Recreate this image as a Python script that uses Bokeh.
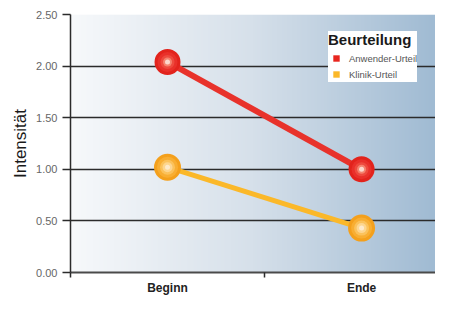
import numpy as np
from bokeh.plotting import figure
from bokeh.models import Range1d, FixedTicker, Legend, LegendItem
from bokeh.embed import file_html
from bokeh.resources import INLINE

categories = ["Beginn", "Ende"]
anwender = [2.04, 1.00]
klinik = [1.02, 0.43]
y_ticks = [0.0, 0.5, 1.0, 1.5, 2.0, 2.5]
series_names = ["Anwender-Urteil", "Klinik-Urteil"]

xs = [i + 0.5 for i in range(len(categories))]
x_end = 1.881

p = figure(width=435, height=297, output_backend="svg", toolbar_location=None,
           x_range=Range1d(0, x_end), y_range=Range1d(0, 2.5),
           min_border_left=70, min_border_right=0, min_border_top=14, min_border_bottom=20)
p.outline_line_color = None
p.background_fill_color = "white"
p.border_fill_color = "white"

# horizontal gradient background
n = 256
t = np.linspace(0, 1, n)
c0 = np.array([247, 249, 251]); c1 = np.array([214, 224, 234]); c2 = np.array([160, 187, 211])
cols = np.where(t[:, None] < 0.5, c0 + (c1 - c0) * (t[:, None] / 0.5), c1 + (c2 - c1) * ((t[:, None] - 0.5) / 0.5))
img = np.zeros((2, n), dtype=np.uint32)
view = img.view(dtype=np.uint8).reshape((2, n, 4))
for r in range(2):
    view[r, :, 0] = cols[:, 0]
    view[r, :, 1] = cols[:, 1]
    view[r, :, 2] = cols[:, 2]
    view[r, :, 3] = 255
p.image_rgba(image=[img], x=0, y=0, dw=x_end, dh=2.5, level="image")

# grid
p.xgrid.visible = False
p.ygrid.ticker = FixedTicker(ticks=y_ticks)
p.ygrid.grid_line_color = "#2b2b2b"
p.ygrid.grid_line_width = 1.5

# y axis
p.yaxis.ticker = FixedTicker(ticks=y_ticks)
p.yaxis.major_label_overrides = {v: f"{v:.2f}" for v in y_ticks}
p.yaxis.axis_label = "Intensität"
p.yaxis.axis_label_text_font = "Liberation Sans"
p.yaxis.axis_label_text_font_size = "17px"
p.yaxis.axis_label_text_font_style = "normal"
p.yaxis.axis_label_text_color = "#1a1a1a"
p.yaxis.axis_label_standoff = 3
p.yaxis.major_label_text_font = "Liberation Sans"
p.yaxis.major_label_text_font_size = "11px"
p.yaxis.major_label_text_color = "#666666"
p.yaxis.major_label_standoff = 5
p.yaxis.major_tick_out = 8
p.yaxis.major_tick_in = 0
p.yaxis.minor_tick_line_color = None
p.yaxis.axis_line_color = "#2b2b2b"
p.yaxis.axis_line_width = 1.5
p.yaxis.major_tick_line_color = "#2b2b2b"
p.yaxis.major_tick_line_width = 1.5

# x axis
p.xaxis.ticker = FixedTicker(ticks=xs, minor_ticks=[0.0, 1.0])
p.xaxis.major_label_overrides = {x: c for x, c in zip(xs, categories)}
p.xaxis.major_label_text_font = "Liberation Sans"
p.xaxis.major_label_text_font_size = "12px"
p.xaxis.major_label_text_font_style = "bold"
p.xaxis.major_label_text_color = "#222222"
p.xaxis.major_label_standoff = 3
p.xaxis.major_tick_line_color = None
p.xaxis.major_tick_out = 0
p.xaxis.major_tick_in = 0
p.xaxis.minor_tick_line_color = "#2b2b2b"
p.xaxis.minor_tick_line_width = 1.5
p.xaxis.minor_tick_out = 5
p.xaxis.minor_tick_in = 0
p.xaxis.axis_line_color = "#4a4a4a"
p.xaxis.axis_line_width = 2

# lines
red = "#e8322b"
orange = "#fbb829"
p.line(xs, anwender, line_color=red, line_width=6)
p.line(xs, klinik, line_color=orange, line_width=5)

# legend glyph renderers (small squares hidden under the markers)
r1 = p.scatter(xs, anwender, marker="square", size=7, fill_color="#e8261f", line_color=None)
r2 = p.scatter(xs, klinik, marker="square", size=7, fill_color="#fbb829", line_color=None)

# shaded markers (concentric circles)
red_shades = [(26, "#e2231c"), (20, "#e9302a"), (14, "#ee4a3e"), (9, "#f5836f"), (5, "#fcd8cc")]
orange_shades = [(27, "#f4a01c"), (21, "#f8ae33"), (15, "#fbc25c"), (10, "#fdd690"), (5, "#feeacb")]
for s, c in red_shades:
    p.scatter(xs, anwender, size=s, fill_color=c, line_color=None)
for s, c in orange_shades:
    p.scatter(xs, klinik, size=s, fill_color=c, line_color=None)

# legend
legend = Legend(items=[LegendItem(label=series_names[0], renderers=[r1]),
                       LegendItem(label=series_names[1], renderers=[r2])],
                location=(258, 190))
legend.title = "Beurteilung"
legend.title_text_font = "Liberation Sans"
legend.title_text_font_style = "bold"
legend.title_text_font_size = "15px"
legend.title_text_color = "#1a1a1a"
legend.title_standoff = 2
legend.label_text_font = "Liberation Sans"
legend.label_text_font_size = "9.5px"
legend.label_text_color = "#555555"
legend.label_height = 16
legend.glyph_height = 16
legend.glyph_width = 16
legend.label_standoff = 5
legend.spacing = -2
legend.padding = 10
legend.margin = 0
legend.border_line_color = None
legend.background_fill_color = "white"
legend.background_fill_alpha = 1.0
p.add_layout(legend, "center")

open("out.html", "w").write(file_html(p, INLINE))
